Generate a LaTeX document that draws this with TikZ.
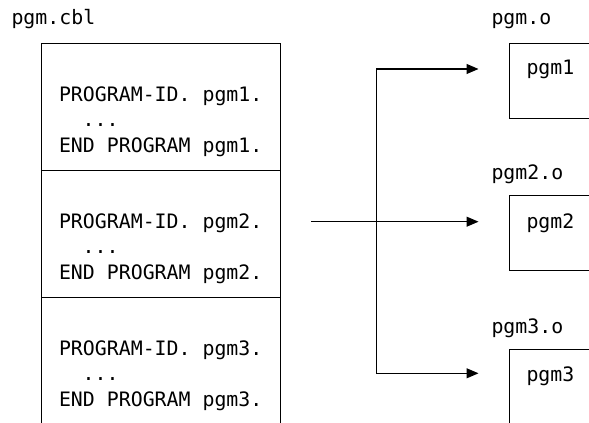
\documentclass[tikz,border=0pt]{standalone}
\usepackage{fontspec}
\newfontfamily\codefont{DejaVu Sans Mono}
\usetikzlibrary{arrows.meta}
\begin{document}
\begin{tikzpicture}[x=0.75pt,y=-0.75pt,line width=0.8pt,
  txt/.style={anchor=base west,inner sep=0pt,font=\codefont\fontsize{14.9}{17}\selectfont},
  sect/.style={draw,anchor=north west,inner sep=0pt,minimum width=179.5pt,minimum height=95.25pt},
  objbox/.style={draw,anchor=north west,inner sep=0pt,minimum width=90pt,minimum height=56.25pt},
  mytip/.tip={Triangle[length=9pt,width=7.5pt]}]
\clip (0,0) rectangle (589,423);
\fill[white] (0,0) rectangle (589,423);
% source file
\node[txt] (srcname) at (11,25) {pgm.cbl};
\node[sect] (s1) at (41,43) {};
\node[sect] (s2) at (41,170) {};
\node[sect,minimum height=120pt] (s3) at (41,297) {};
\foreach \i/\y in {1/0,2/127,3/254}{
  \node[txt] (pid\i) at (58.5,101.5+\y) {PROGRAM-ID. pgm\i.};
  \node[txt] (dots\i) at (82.2,127+\y) {...};
  \node[txt] (end\i) at (58.5,152.5+\y) {END PROGRAM pgm\i.};
}
% object files
\node[txt] (o1name) at (491,25) {pgm.o};
\node[objbox] (o1) at (509,43) {};
\node[txt] (o1txt) at (526,75) {pgm1};
\node[txt] (o2name) at (491,180) {pgm2.o};
\node[objbox] (o2) at (509,195) {};
\node[txt] (o2txt) at (526,228.5) {pgm2};
\node[txt] (o3name) at (491,333.5) {pgm3.o};
\node[objbox] (o3) at (509,349) {};
\node[txt] (o3txt) at (526,382) {pgm3};
% connectors
\coordinate (v1) at (376.7,69);
\coordinate (v3) at (376.7,373.3);
\coordinate (t1) at (478.5,69);
\coordinate (t3) at (478.5,373.3);
\coordinate (m0) at (311,221.7);
\coordinate (t2) at (478.5,221.7);
\draw[mytip-mytip] (t1) -- (v1) -- (v3) -- (t3);
\draw[-mytip] (m0) -- (t2);
\end{tikzpicture}
\end{document}
